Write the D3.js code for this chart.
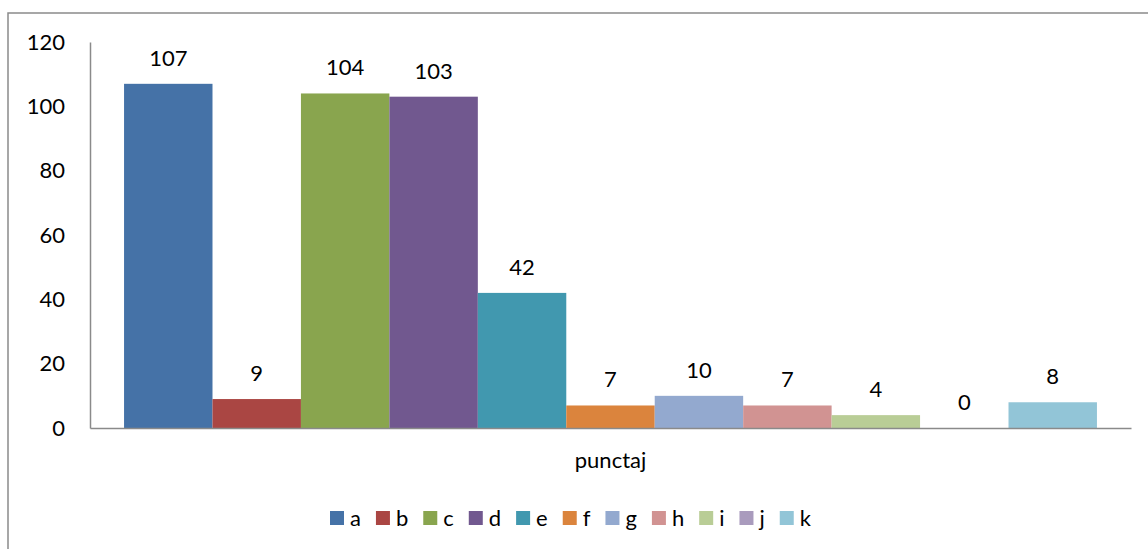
<!DOCTYPE html>
<html>
<head>
<meta charset="utf-8">
<script src="https://d3js.org/d3.v7.min.js"></script>
<style>
  body { margin: 0; background: #fff; }
  svg { display: block; font-family: Lato, "Open Sans", sans-serif; }
</style>
</head>
<body>
<svg width="1148" height="549"></svg>
<script>
// data
var series = ["a", "b", "c", "d", "e", "f", "g", "h", "i", "j", "k"];
var values = [107, 9, 104, 103, 42, 7, 10, 7, 4, 0, 8];
var category = "punctaj";
var yTicks = [0, 20, 40, 60, 80, 100, 120];
var colors = ["#4572A7", "#AA4643", "#89A54E", "#71588F", "#4198AF", "#DB843D",
              "#93A9CF", "#D19392", "#B9CD96", "#A99BBD", "#92C5D7"];

var svg = d3.select("svg");
var axisColor = "#8a8a8a";

// chart frame (runs off the right/bottom edge)
svg.append("rect")
  .attr("x", 8).attr("y", 13)
  .attr("width", 1200).attr("height", 600)
  .attr("fill", "none")
  .attr("stroke", axisColor)
  .attr("stroke-width", 1.5);

var plotLeft = 90, plotRight = 1131, plotTop = 42, plotBottom = 428;

var x = d3.scaleBand()
  .domain(series)
  .range([plotLeft, plotRight])
  .paddingInner(0)
  .paddingOuter(0.385);

var y = d3.scaleLinear()
  .domain([0, 120])
  .range([plotBottom, plotTop]);

var color = d3.scaleOrdinal().domain(series).range(colors);

// bars
svg.append("g").selectAll("rect")
  .data(series)
  .enter().append("rect")
    .attr("x", function(d) { return x(d); })
    .attr("width", x.bandwidth())
    .attr("y", function(d, i) { return y(values[i]); })
    .attr("height", function(d, i) { return plotBottom - y(values[i]); })
    .attr("fill", function(d) { return color(d); });

// value labels
svg.append("g").selectAll("text")
  .data(series)
  .enter().append("text")
    .attr("x", function(d) { return x(d) + x.bandwidth() / 2; })
    .attr("y", function(d, i) { return y(values[i]) - 18; })
    .attr("text-anchor", "middle")
    .attr("font-size", 22)
    .attr("fill", "#000")
    .text(function(d, i) { return values[i]; });

// y axis
var yAxis = svg.append("g")
  .attr("transform", "translate(" + plotLeft + ",0)")
  .call(d3.axisLeft(y).tickValues(yTicks).tickSize(0).tickPadding(25));
yAxis.select(".domain").attr("stroke", axisColor).attr("stroke-width", 1.5);
yAxis.selectAll("text").attr("font-size", 22).attr("fill", "#000")
  .attr("font-family", "Lato, 'Open Sans', sans-serif");

// x axis
var xCat = d3.scaleBand().domain([category]).range([plotLeft, plotRight]);
var xAxis = svg.append("g")
  .attr("transform", "translate(0," + plotBottom + ")")
  .call(d3.axisBottom(xCat).tickSize(0).tickPadding(24));
xAxis.select(".domain").attr("stroke", axisColor).attr("stroke-width", 1.5);
xAxis.selectAll("text").attr("font-size", 22).attr("fill", "#000")
  .attr("font-family", "Lato, 'Open Sans', sans-serif");

// legend
var legend = svg.append("g").attr("transform", "translate(0,518)");
var lx = 330;
series.forEach(function(s) {
  legend.append("rect")
    .attr("x", lx).attr("y", -7)
    .attr("width", 14).attr("height", 14)
    .attr("fill", color(s));
  var t = legend.append("text")
    .attr("x", lx + 20).attr("y", 0)
    .attr("dy", "0.35em")
    .attr("font-size", 22)
    .attr("fill", "#000")
    .text(s);
  lx += 20 + t.node().getComputedTextLength() + 15;
});
</script>
</body>
</html>
